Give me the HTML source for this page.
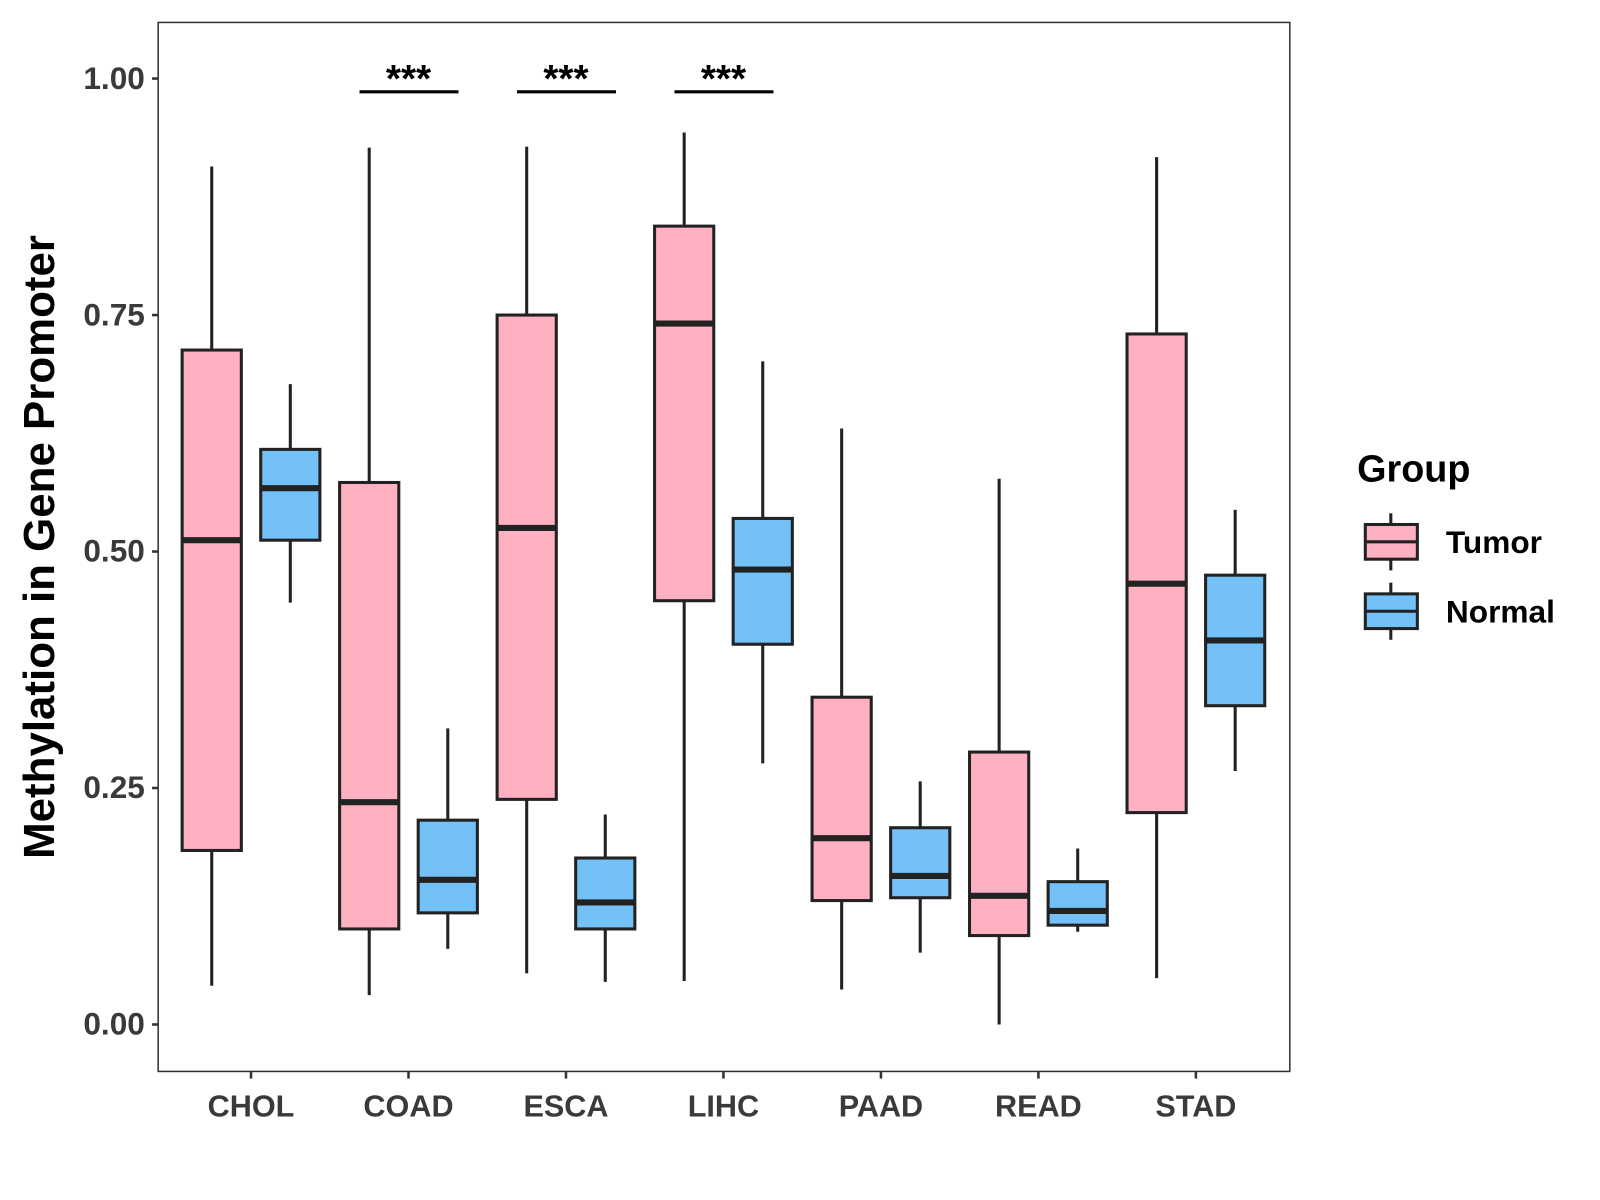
<!DOCTYPE html>
<html><head><meta charset="utf-8"><style>html,body{margin:0;padding:0;background:#fff}svg{display:block}text{font-family:"Liberation Sans",Arial,sans-serif;font-weight:bold}</style></head>
<body>
<svg id="chart" width="1600" height="1200" viewBox="0 0 1568 1176" xmlns="http://www.w3.org/2000/svg">
<rect x="0" y="0" width="1568" height="1176" fill="#fff"/>
<rect x="155" y="22" width="1109" height="1028" fill="none" stroke="#333" stroke-width="1.5"/>
<g id="marks"></g>
<text transform="translate(53,536) rotate(-90)" text-anchor="middle" font-size="43" fill="#000">Methylation in Gene Promoter</text>
<text x="1330" y="472" font-size="37" fill="#000">Group</text>
<g>
<line x1="1363" y1="503" x2="1363" y2="559" stroke="#222" stroke-width="3"/>
<rect x="1338" y="514" width="51" height="34" fill="#FFB0C1" stroke="#222" stroke-width="3"/>
<line x1="1338" y1="531" x2="1389" y2="531" stroke="#222" stroke-width="3"/>
<text x="1417" y="542" font-size="31" fill="#000">Tumor</text></g>
<g>
<line x1="1363" y1="571" x2="1363" y2="627" stroke="#222" stroke-width="3"/>
<rect x="1338" y="582" width="51" height="34" fill="#74C1F8" stroke="#222" stroke-width="3"/>
<line x1="1338" y1="599" x2="1389" y2="599" stroke="#222" stroke-width="3"/>
<text x="1417" y="610" font-size="31" fill="#000">Normal</text></g>
</svg>
<script>
const categories=["CHOL","COAD","ESCA","LIHC","PAAD","READ","STAD"];
// [lower whisker, q1, median, q3, upper whisker]
const tumorStats=[[0.041,0.184,0.512,0.713,0.907],[0.031,0.101,0.235,0.573,0.927],[0.054,0.238,0.525,0.750,0.928],[0.046,0.448,0.741,0.844,0.943],[0.037,0.131,0.197,0.346,0.630],[0.0,0.094,0.136,0.288,0.577],[0.049,0.224,0.466,0.730,0.917]];
const normalStats=[[0.446,0.512,0.567,0.608,0.677],[0.080,0.118,0.153,0.216,0.313],[0.045,0.101,0.129,0.176,0.222],[0.276,0.402,0.481,0.535,0.701],[0.076,0.134,0.157,0.208,0.257],[0.098,0.105,0.120,0.151,0.186],[0.268,0.337,0.406,0.475,0.544]];
const yTicks=[0,0.25,0.5,0.75,1.0];
const yTickLabels=["0.00","0.25","0.50","0.75","1.00"];
const sigCategories=["COAD","ESCA","LIHC"];
const sigLabels=["***","***","***"];
const sigLevel=0.986;

const NS="http://www.w3.org/2000/svg";
const g=document.getElementById('marks');
function y(v){return 1004-v*927;}
function x(i){return 246+i*154.33;}
function mk(t,a,p){const e=document.createElementNS(NS,t);for(const k in a)e.setAttribute(k,a[k]);(p||g).appendChild(e);return e;}
yTicks.forEach((v,i)=>{
  const l=mk('line',{x1:149,x2:155,y1:y(v),y2:y(v),stroke:'#333','stroke-width':2.5});
  
  
  const t=mk('text',{x:142,y:y(v)+10,'text-anchor':'end','font-size':31,fill:'#3a3a3a'});
  
  
  t.textContent=yTickLabels[i];
});
categories.forEach((c,i)=>{
  const l=mk('line',{x1:x(i),x2:x(i),y1:1050,y2:1057,stroke:'#333','stroke-width':2.5});
  
  
  const t=mk('text',{x:x(i),y:1094,'text-anchor':'middle','font-size':30,fill:'#3a3a3a'});
  
  
  t.textContent=c;
});
function box(s,cx,fill,name){
  const grp=mk('g',{});
  
  
  const w=58;
  mk('line',{x1:cx,x2:cx,y1:y(s[0]),y2:y(s[4]),stroke:'#222','stroke-width':3},grp);
  mk('rect',{x:cx-w/2,y:y(s[3]),width:w,height:y(s[1])-y(s[3]),fill:fill,stroke:'#222','stroke-width':3},grp);
  mk('line',{x1:cx-w/2,x2:cx+w/2,y1:y(s[2]),y2:y(s[2]),stroke:'#222','stroke-width':6},grp);
}
categories.forEach((c,i)=>{
  box(tumorStats[i],x(i)-38.5,'#FFB0C1','box-tumor-'+c.toLowerCase());
  box(normalStats[i],x(i)+38.5,'#74C1F8','box-normal-'+c.toLowerCase());
});
sigCategories.forEach((c,k)=>{
  const i=categories.indexOf(c);
  const l=mk('line',{x1:x(i)-48,x2:x(i)+49,y1:y(sigLevel),y2:y(sigLevel),stroke:'#000','stroke-width':3});
  
  
  const t=mk('text',{x:x(i),y:y(sigLevel)+0,'text-anchor':'middle','font-size':38,fill:'#000'});
  
  
  t.textContent=sigLabels[k];
});
</script>
</body></html>
